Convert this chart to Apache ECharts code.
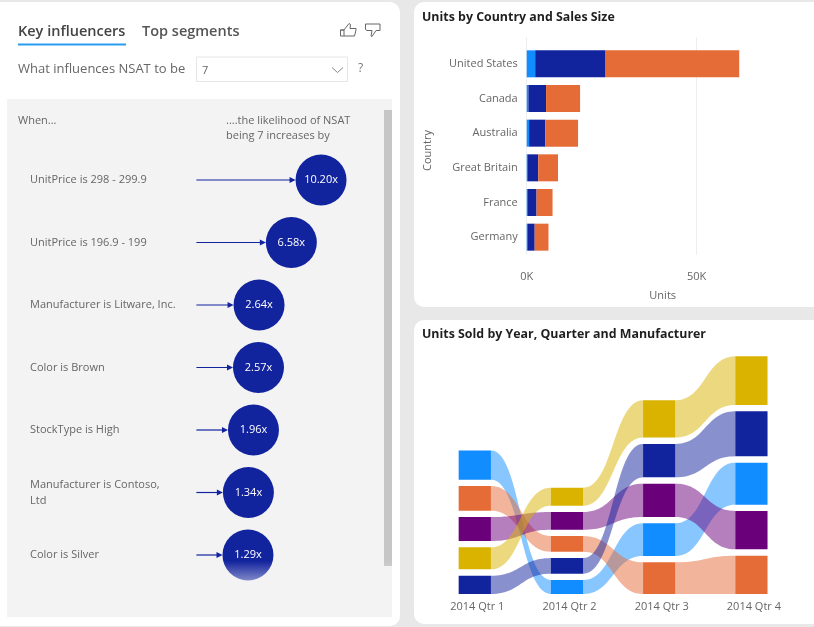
<!DOCTYPE html>
<html>
<head>
<meta charset="utf-8">
<style>html,body{margin:0;padding:0;background:#e8e8e8}#c{width:814px;height:627px;filter:blur(0.35px)}</style>
<script src="https://cdn.jsdelivr.net/npm/echarts@6/dist/echarts.min.js"></script>
</head>
<body>
<div id="c"></div>
<script>
var FONT = '"Open Sans", "Noto Sans", sans-serif';

var influencers = ['UnitPrice is 298 - 299.9','UnitPrice is 196.9 - 199','Manufacturer is Litware, Inc.','Color is Brown','StockType is High','Manufacturer is Contoso,\nLtd','Color is Silver'];
var multipliers = [10.20,6.58,2.64,2.57,1.96,1.34,1.29];

var countries = ['United States','Canada','Australia','Great Britain','France','Germany'];
var sizeSmall = [2.5,0.5,0.7,0.2,0.2,0.2];
var sizeMedium = [20.7,5.2,4.8,3.2,2.7,2.15];
var sizeLarge = [39.3,10.0,9.6,5.8,4.7,4.05];

var quarters = ['2014 Qtr 1','2014 Qtr 2','2014 Qtr 3','2014 Qtr 4'];
var manufacturers = ['Adventure Works','Contoso, Ltd','Fabrikam, Inc.','Litware, Inc.','Proseware, Inc.'];
var unitsBlue = [2930,1400,3270,4200];
var unitsOrange = [2470,1570,3170,3830];
var unitsPurple = [2400,1770,3330,3840];
var unitsYellow = [2200,1800,3730,4870];
var unitsNavy = [1830,1560,3340,4500];

var BLUE='#118DFF',NAVY='#12239E',ORANGE='#E66C37',PURPLE='#6B007B',YELLOW='#D9B300';
var RIBBON_GAP = 633;
var ribbonRows = [unitsBlue,unitsOrange,unitsPurple,unitsYellow,unitsNavy];
var ribbonColors = [BLUE,ORANGE,PURPLE,YELLOW,NAVY];

// stack manufacturers per quarter: largest value on top
var stacks = ribbonRows.map(function(){return [];});
quarters.forEach(function(q,qi){
  var order = ribbonRows.map(function(r,i){return i;}).sort(function(a,b){return ribbonRows[a][qi]-ribbonRows[b][qi];});
  var base = 0;
  order.forEach(function(i){
    stacks[i][qi] = [base, base+ribbonRows[i][qi]];
    base += ribbonRows[i][qi] + RIBBON_GAP;
  });
});

function ribbonSeries(idx){
  var col = ribbonColors[idx];
  var data = quarters.map(function(q,qi){
    var cur = stacks[idx][qi], nxt = stacks[idx][qi+1] || cur;
    return [qi,cur[0],cur[1],nxt[0],nxt[1]];
  });
  return {
    type:'custom', name:manufacturers[idx], xAxisIndex:2, yAxisIndex:2, silent:true, clip:false,
    encode:{x:0,y:[1,2]}, data:data,
    renderItem:function(params,api){
      var qi = api.value(0), band = api.size([1,0])[0], w = band*0.35;
      var p0 = api.coord([qi,api.value(1)]), p1 = api.coord([qi,api.value(2)]);
      var children = [{type:'rect',z2:5,shape:{x:p0[0]-w/2,y:p1[1],width:w,height:p0[1]-p1[1]},style:{fill:col}}];
      if(qi < quarters.length-1){
        var q0 = api.coord([qi+1,api.value(3)]), q1 = api.coord([qi+1,api.value(4)]);
        var xa = p0[0]+w/2, xb = q0[0]-w/2, xm=(xa+xb)/2, pts=[], n=28, t, k;
        var curve=function(ya,yb,tt){
          var u=1-tt;
          return [u*u*u*xa+3*u*u*tt*xm+3*u*tt*tt*xm+tt*tt*tt*xb, u*u*u*ya+3*u*u*tt*ya+3*u*tt*tt*yb+tt*tt*tt*yb];
        };
        for(k=0;k<=n;k++){ t=k/n; pts.push(curve(p1[1],q1[1],t)); }
        for(k=n;k>=0;k--){ t=k/n; pts.push(curve(p0[1],q0[1],t)); }
        children.push({type:'polygon',z2:1,shape:{points:pts},style:{fill:col,opacity:0.5}});
      }
      return {type:'group',children:children};
    }
  };
}

var titleStyle = {fontFamily:FONT,fontSize:12.4,fontWeight:700,color:'#1f1f1f'};
function txt(x,y,t,size,color,extra){
  var s={x:x,y:y,text:t,fontFamily:FONT,fontSize:size,fill:color,verticalAlign:'middle'};
  if(extra) for(var k in extra) s[k]=extra[k];
  return {type:'text',z:50,style:s};
}
function panel(x,y,w,h,r,fill){return {type:'rect',z:-10,shape:{x:x,y:y,width:w,height:h,r:r},style:{fill:fill}};}
var thumbUpPts=[[340.5,30],[344,30],[344,36],[340.5,36],[340.5,30],[344,30],[349,23.5],[350.5,24.5],[350,28.5],[356,28.5],[356,30],[354.5,36],[344,36]];
var thumbDownPts=[[365.5,24],[380,24],[380,30.5],[376,30.5],[372,36.5],[371,36],[372,30.5],[366.5,30.5],[365.5,29],[365.5,24]];

var graphics = [
  panel(-12,2,412,624,10,'#ffffff'),
  panel(414,2,412,305,10,'#ffffff'),
  panel(414,320,412,304,10,'#ffffff'),
  {type:'rect',z:-9,shape:{x:7,y:99,width:385,height:518},style:{fill:'#f3f3f3'}},
  {type:'rect',z:-8,shape:{x:384,y:110,width:8,height:456},style:{fill:'#c6c6c6'}},
  txt(18,31.5,'Key influencers',14.5,'#444444',{fontWeight:600}),
  txt(142,31.5,'Top segments',14.5,'#555555',{fontWeight:600}),
  {type:'rect',z:50,shape:{x:18,y:43.5,width:108,height:2},style:{fill:'#2a9bf0'}},
  {type:'polyline',z:50,shape:{points:thumbUpPts},style:{fill:'none',stroke:'#666666',lineWidth:1}},
  {type:'polyline',z:50,shape:{points:thumbDownPts},style:{fill:'none',stroke:'#666666',lineWidth:1}},
  txt(18,69.5,'What influences NSAT to be',13,'#666666'),
  {type:'rect',z:50,shape:{x:196.5,y:57,width:151,height:24.5},style:{fill:'#ffffff',stroke:'#e6e6e6',lineWidth:1}},
  txt(202,70.5,'7',11,'#666666'),
  {type:'polyline',z:50,shape:{points:[[332,67.5],[337.5,72.5],[343,67.5]]},style:{fill:'none',stroke:'#888888',lineWidth:1}},
  txt(358,69,'?',12,'#777777'),
  txt(18,121,'When...',11,'#666666'),
  txt(226,121,'....the likelihood of NSAT',11,'#666666'),
  txt(226,136,'being 7 increases by',11,'#666666'),
  {type:'rect',z:100,shape:{x:7,y:561,width:385,height:22},style:{fill:{type:'linear',x:0,y:0,x2:0,y2:1,colorStops:[{offset:0,color:'rgba(243,243,243,0)'},{offset:1,color:'rgba(243,243,243,0.55)'}]}}}
];

var ARROW_FROM = -5;
var option = {
  animation:false,
  backgroundColor:'#e8e8e8',
  title:[
    {text:'Units by Country and Sales Size',left:422,top:11,padding:0,textStyle:titleStyle},
    {text:'Units Sold by Year, Quarter and Manufacturer',left:422,top:328,padding:0,textStyle:titleStyle}
  ],
  graphic:{elements:graphics},
  grid:[
    {left:196.4,top:148.75,width:164,height:437.5},
    {left:526.7,top:46.5,width:272,height:208},
    {left:428.7,top:356,width:368.8,height:238},
    {left:526.7,top:37,width:272,height:218}
  ],
  xAxis:[
    {gridIndex:0,type:'value',min:-5,max:15,show:false},
    {gridIndex:1,type:'value',min:0,max:80,show:false},
    {gridIndex:2,type:'category',data:quarters,axisLine:{show:false},axisTick:{show:false},
      axisLabel:{margin:7,padding:[0,0,0,5],color:'#666666',fontFamily:FONT,fontSize:11}},
    {gridIndex:3,type:'value',min:0,max:80,interval:50,
      axisLine:{show:false},axisTick:{show:false},
      splitLine:{show:true,showMaxLine:false,lineStyle:{color:'#eeeeee',width:1}},
      axisLabel:{margin:16,color:'#666666',fontFamily:FONT,fontSize:11,formatter:function(v){return v+'K';},
        showMaxLabel:false},
      name:'Units',nameLocation:'middle',nameGap:35,nameTextStyle:{color:'#666666',fontFamily:FONT,fontSize:11}}
  ],
  yAxis:[
    {gridIndex:0,type:'category',data:influencers,inverse:true,axisLine:{show:false},axisTick:{show:false},
      axisLabel:{align:'left',margin:166.4,padding:[2,0,0,0],lineHeight:16,color:'#666666',fontFamily:FONT,fontSize:11}},
    {gridIndex:1,type:'category',data:countries,inverse:true,axisLine:{show:false},axisTick:{show:false},
      axisLabel:{margin:9,padding:[1,0,0,0],color:'#666666',fontFamily:FONT,fontSize:11},
      name:'Country',nameLocation:'middle',nameGap:93,nameTextStyle:{color:'#666666',fontFamily:FONT,fontSize:11}},
    {gridIndex:2,type:'value',min:0,max:23800,show:false},
    {gridIndex:3,type:'value',min:0,max:1,show:false}
  ],
  series:[
    {type:'custom',xAxisIndex:0,yAxisIndex:0,silent:true,clip:false,z:3,
      data:multipliers.map(function(v,i){return [v,i];}),
      renderItem:function(params,api){
        var c = api.coord([api.value(0),api.value(1)]);
        var s = api.coord([ARROW_FROM,api.value(1)]);
        var tip = c[0]-25.5;
        return {type:'group',children:[
          {type:'line',shape:{x1:s[0],y1:s[1],x2:tip-3,y2:s[1]},style:{stroke:NAVY,lineWidth:1.2}},
          {type:'polygon',shape:{points:[[tip-6,s[1]-3],[tip,s[1]],[tip-6,s[1]+3]]},style:{fill:NAVY}}
        ]};
      }
    },
    {type:'scatter',xAxisIndex:0,yAxisIndex:0,silent:true,clip:false,z:4,symbolSize:51,
      itemStyle:{color:NAVY,opacity:1},
      label:{show:true,position:'inside',color:'#ffffff',fontFamily:FONT,fontSize:11,
        formatter:function(p){return p.value[0].toFixed(2)+'x';}},
      data:multipliers.map(function(v,i){return [v,i];})
    },
    {type:'bar',name:'Small',stack:'u',xAxisIndex:1,yAxisIndex:1,barWidth:27,itemStyle:{color:BLUE},data:sizeSmall,silent:true},
    {type:'bar',name:'Medium',stack:'u',xAxisIndex:1,yAxisIndex:1,barWidth:27,itemStyle:{color:NAVY},data:sizeMedium,silent:true},
    {type:'bar',name:'Large',stack:'u',xAxisIndex:1,yAxisIndex:1,barWidth:27,itemStyle:{color:ORANGE},data:sizeLarge,silent:true}
  ].concat(ribbonRows.map(function(r,i){return ribbonSeries(i);}))
};
echarts.init(document.getElementById('c'),null,{renderer:'canvas'}).setOption(option);
</script>
</body>
</html>
